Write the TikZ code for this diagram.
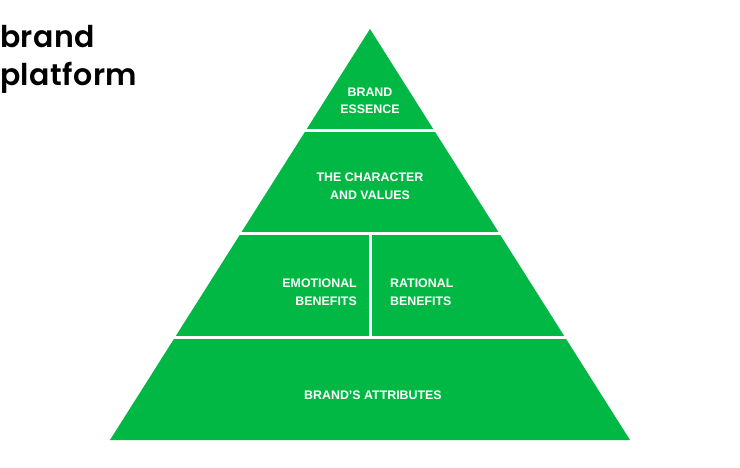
\documentclass[tikz,border=0pt]{standalone}
\usepackage{fontspec}
\setmainfont{Liberation Sans}
\newfontfamily\titlefont{Poppins}[BoldFont={Poppins SemiBold},LetterSpace=1.5]
\definecolor{pgreen}{RGB}{0,184,67}
\begin{document}
\begin{tikzpicture}[x=1pt,y=-1pt,
  lbl/.style={text=white,inner sep=0pt,font=\fontsize{12.4}{18.3}\selectfont\bfseries},
  sep/.style={draw=white,line width=3pt},
  ttl/.style={anchor=base west,inner sep=0pt,font=\fontsize{30}{38}\selectfont\titlefont\bfseries}]
\useasboundingbox (0,0) rectangle (740,468);
\fill[pgreen] (370,29) -- (630,440) -- (110,440) -- cycle;
\coordinate (l1a) at (290,131); \coordinate (l1b) at (450,131);
\coordinate (l2a) at (225,234); \coordinate (l2b) at (515,234);
\coordinate (l3a) at (160,337); \coordinate (l3b) at (580,337);
\coordinate (va) at (370,234); \coordinate (vb) at (370,337);
\draw[sep] (l1a) -- (l1b);
\draw[sep] (l2a) -- (l2b);
\draw[sep] (l3a) -- (l3b);
\draw[sep] (va) -- (vb);
\node[ttl] (t1) at (0,48) {brand};
\node[ttl] (t2) at (0,86) {platform};
\node[lbl,align=center,font=\fontsize{12.4}{16.6}\selectfont\bfseries] (essence) at (370,101) {BRAND\\ESSENCE};
\node[lbl,align=center] (character) at (370,186) {THE CHARACTER\\AND VALUES};
\node[lbl,align=right,anchor=east] (emotional) at (357,292.5) {EMOTIONAL\\BENEFITS};
\node[lbl,align=left,anchor=west] (rational) at (390,292.5) {RATIONAL\\BENEFITS};
\node[lbl] (attributes) at (373,395) {BRAND’S ATTRIBUTES};
\end{tikzpicture}
\end{document}
